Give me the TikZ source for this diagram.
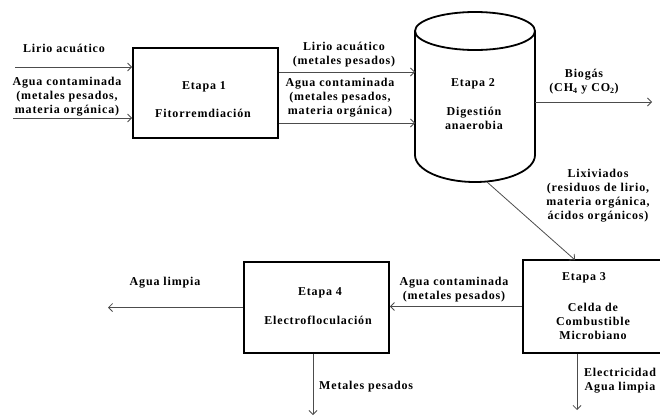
\documentclass[tikz,border=0pt]{standalone}
\usepackage{fontspec}
\setmainfont{Liberation Serif}[LetterSpace=7]
\usetikzlibrary{arrows.meta}
\begin{document}
\begin{tikzpicture}[x=1pt,y=-1pt,
  lbl/.style={font=\fontsize{12}{14}\selectfont\bfseries, align=center, inner sep=0pt, text=black},
  stage/.style={draw, line width=1.8pt, inner sep=0pt},
  flow/.style={draw=black!70, line width=0.8pt, -{Straight Barb[length=4pt,width=8pt]}}]
\useasboundingbox (0,0) rectangle (660,418);

% stage boxes
\node[stage, minimum width=145pt, minimum height=90pt] (b1) at (205.5,93) {};
\node[stage, minimum width=160pt, minimum height=93pt] (b3) at (603,306.5) {};
\node[stage, minimum width=145pt, minimum height=91pt] (b4) at (316.5,307.5) {};

% cylinder (Etapa 2)
\node[inner sep=0pt, minimum width=120pt, minimum height=170pt] (cyl) at (475,97) {};
\draw[line width=1.8pt] (415,31) -- (415,155) arc[start angle=180, end angle=360, x radius=60pt, y radius=27pt] -- (535,31);
\draw[line width=1.8pt] (475,31) ellipse [x radius=60pt, y radius=19pt];

% texts in stages
\node[lbl] (e1) at (204,87) {Etapa 1};
\node[lbl] (f1) at (203,113) {Fitorremdiación};
\node[lbl] (e2) at (473,84) {Etapa 2};
\node[lbl] (f2) at (474,118) {Digestión\\anaerobia};
\node[lbl] (e3) at (584,278) {Etapa 3};
\node[lbl] (f3) at (593,321) {Celda de\\Combustible\\Microbiano};
\node[lbl] (e4) at (320,293) {Etapa 4};
\node[lbl] (f4) at (318,320) {Electrofloculación};

% flow labels
\node[lbl] (l1) at (64,48) {Lirio acuático};
\node[lbl] (l2) at (67,97) {Agua contaminada\\(metales pesados,\\materia orgánica)};
\node[lbl] (l3) at (344,54.5) {Lirio acuático\\(metales pesados)};
\node[lbl] (l4) at (340,97.5) {Agua contaminada\\(metales pesados,\\materia orgánica)};
\node[lbl] (l5) at (584,81.5) {Biogás\\(CH\textsubscript{4} y CO\textsubscript{2})};
\node[lbl] (l6) at (598,196) {Lixiviados\\(residuos de lirio,\\materia orgánica,\\ácidos orgánicos)};
\node[lbl] (l7) at (454,289.5) {Agua contaminada\\(metales pesados)};
\node[lbl] (l8) at (620,380.5) {Electricidad\\Agua limpia};
\node[lbl] (l9) at (165,283) {Agua limpia};
\node[lbl, anchor=west] (l10) at (319,387) {Metales pesados};

% connector end points
\coordinate (in1) at (15,67);
\coordinate (in2) at (13,118);
\coordinate (c1in) at (415,72);
\coordinate (c2in) at (415,123);
\coordinate (cylR) at (535,102);
\coordinate (bio) at (652,102);
\coordinate (cylbot) at (487,182);
\coordinate (b3top) at (575,260);
\coordinate (out4) at (108,308);
\coordinate (met) at (313,415);
\coordinate (elec) at (577,410);

% connectors
\draw[flow] (in1) -- (b1.west |- in1);
\draw[flow] (in2) -- (b1.west |- in2);
\draw[flow] (b1.east |- c1in) -- (c1in);
\draw[flow] (b1.east |- c2in) -- (c2in);
\draw[flow] (cylR) -- (bio);
\draw[flow] (cylbot) -- (b3top);
\draw[flow] (b3.west) -- (b4.east |- b3.west);
\draw[flow] (b4.west) -- (out4 |- b4.west);
\draw[flow] (met |- b4.south) -- (met);
\draw[flow] (elec |- b3.south) -- (elec);
\end{tikzpicture}
\end{document}
